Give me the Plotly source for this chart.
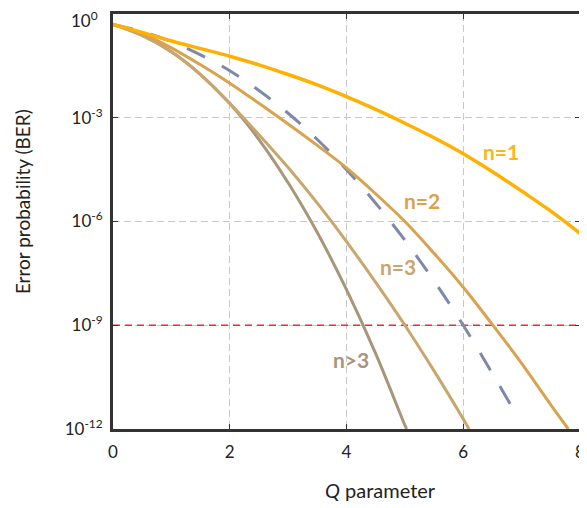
import plotly.graph_objects as go

# Q parameter sample points and log10(BER) values
q_n1 = [0, 0.5, 1, 1.5, 2, 2.5, 3, 3.5, 4, 4.5, 5, 5.5, 6, 6.5, 7, 7.5, 8]
log_n1 = [-0.30, -0.53, -0.78, -1.00, -1.22, -1.47, -1.75, -2.05, -2.39, -2.76,
          -3.16, -3.58, -4.04, -4.56, -5.12, -5.70, -6.34]

q_n2 = [0, 0.5, 1, 1.5, 2, 2.5, 3, 3.5, 4, 4.5, 5, 5.5, 6, 6.5, 7, 7.5, 7.8]
log_n2 = [-0.30, -0.57, -0.98, -1.47, -2.00, -2.58, -3.18, -3.80, -4.45, -5.20,
          -6.00, -6.92, -7.90, -8.98, -10.10, -11.30, -12.0]

q_n3 = [0, 0.5, 1, 1.5, 2, 2.5, 3, 3.5, 4, 4.5, 5, 5.5, 6, 6.1]
log_n3 = [-0.30, -0.62, -1.09, -1.75, -2.58, -3.49, -4.44, -5.47, -6.58, -7.76,
          -9.00, -10.32, -11.71, -12.0]

q_n4 = [0, 0.5, 1, 1.5, 2, 2.5, 3, 3.5, 4, 4.5, 5, 5.03]
log_n4 = [-0.30, -0.62, -1.09, -1.75, -2.59, -3.63, -4.88, -6.32, -7.97, -9.82,
          -11.89, -12.0]

q_gauss = [0, 0.5, 1, 1.5, 2, 2.5, 3, 3.5, 4, 4.5, 5, 5.5, 6, 6.5, 6.95]
log_gauss = [-0.30, -0.51, -0.80, -1.18, -1.64, -2.21, -2.87, -3.63, -4.50, -5.47,
             -6.54, -7.72, -9.00, -10.40, -11.70]

q_limit = [0, 8]
ber_limit = [1e-9, 1e-9]

y_tick_vals = [1e0, 1e-3, 1e-6, 1e-9, 1e-12]
# the top label is drawn separately (nudged down as in the reference)
y_tick_text = ["", "10<sup>-3</sup>", "10<sup>-6</sup>",
               "10<sup>-9</sup>", "10<sup>-12</sup>"]
y_top_label = "10<sup>0</sup>"
x_tick_vals = [0, 2, 4, 6, 8]

labels = [("n=1", 6.64, -3.99, "#FDB515"),
          ("n=2", 5.29, -5.38, "#D9A24E"),
          ("n=3", 4.88, -7.31, "#C8A66C"),
          ("n>3", 4.08, -10.0, "#A8957A")]

FONT = "Lato"


def pw(vals):
    return [10 ** v for v in vals]


fig = go.Figure()
fig.add_trace(go.Scatter(x=q_limit, y=ber_limit, mode="lines",
                         line=dict(color="#F02A2A", width=1.5, dash="7px,5px"),
                         hoverinfo="skip"))
fig.add_trace(go.Scatter(x=q_gauss, y=pw(log_gauss), mode="lines", line_shape="spline",
                         line=dict(color="#7E89A9", width=3, dash="20px,19px")))
fig.add_trace(go.Scatter(x=q_n4, y=pw(log_n4), mode="lines", line_shape="spline",
                         line=dict(color="#A8957A", width=3)))
fig.add_trace(go.Scatter(x=q_n3, y=pw(log_n3), mode="lines", line_shape="spline",
                         line=dict(color="#C8A66C", width=3)))
fig.add_trace(go.Scatter(x=q_n2, y=pw(log_n2), mode="lines", line_shape="spline",
                         line=dict(color="#D9A24E", width=3)))
fig.add_trace(go.Scatter(x=q_n1, y=pw(log_n1), mode="lines", line_shape="spline",
                         line=dict(color="#FFB000", width=3.5)))

for txt, x, y, c in labels:
    fig.add_annotation(x=x, y=y, text="<b>" + txt + "</b>", showarrow=False,
                       font=dict(size=21, color=c, family=FONT))

# top y tick label
fig.add_annotation(xref="paper", yref="paper", x=-0.028, y=0.986,
                   text=y_top_label, showarrow=False, xanchor="right", yanchor="middle",
                   font=dict(size=17, color="#222222", family=FONT))

# axis titles (placed as in the reference)
fig.add_annotation(xref="paper", yref="paper", x=-0.195, y=0.549,
                   text="Error probability (BER)", textangle=-90, showarrow=False,
                   xanchor="center", yanchor="middle",
                   font=dict(size=19, color="#222222", family=FONT))
fig.add_annotation(xref="paper", yref="paper", x=0.572, y=-0.148,
                   text="<i>Q</i> parameter", showarrow=False,
                   xanchor="center", yanchor="middle",
                   font=dict(size=20, color="#222222", family=FONT))

axis_common = dict(showline=True, linecolor="#333333", linewidth=3, mirror="ticks",
                   ticks="inside", ticklen=5, tickcolor="#333333",
                   showgrid=True, gridcolor="#c8c8c8", griddash="7px,4px", gridwidth=1.3,
                   zeroline=False, ticklabeloverflow="allow", automargin=False,
                   tickfont=dict(size=17, color="#222222", family=FONT))

fig.update_xaxes(range=[0, 8], tickvals=x_tick_vals, ticklabelstandoff=6, **axis_common)
fig.update_yaxes(type="log", range=[-12, 0], tickvals=y_tick_vals, ticktext=y_tick_text,
                 ticklabelstandoff=4, **axis_common)

# the page body adds an 8px offset, so the figure is sized to fit the window
fig.update_layout(width=579, height=500, showlegend=False,
                  plot_bgcolor="white", paper_bgcolor="white",
                  margin=dict(l=105, r=7, t=6, b=79))

fig.write_html("out.html")
